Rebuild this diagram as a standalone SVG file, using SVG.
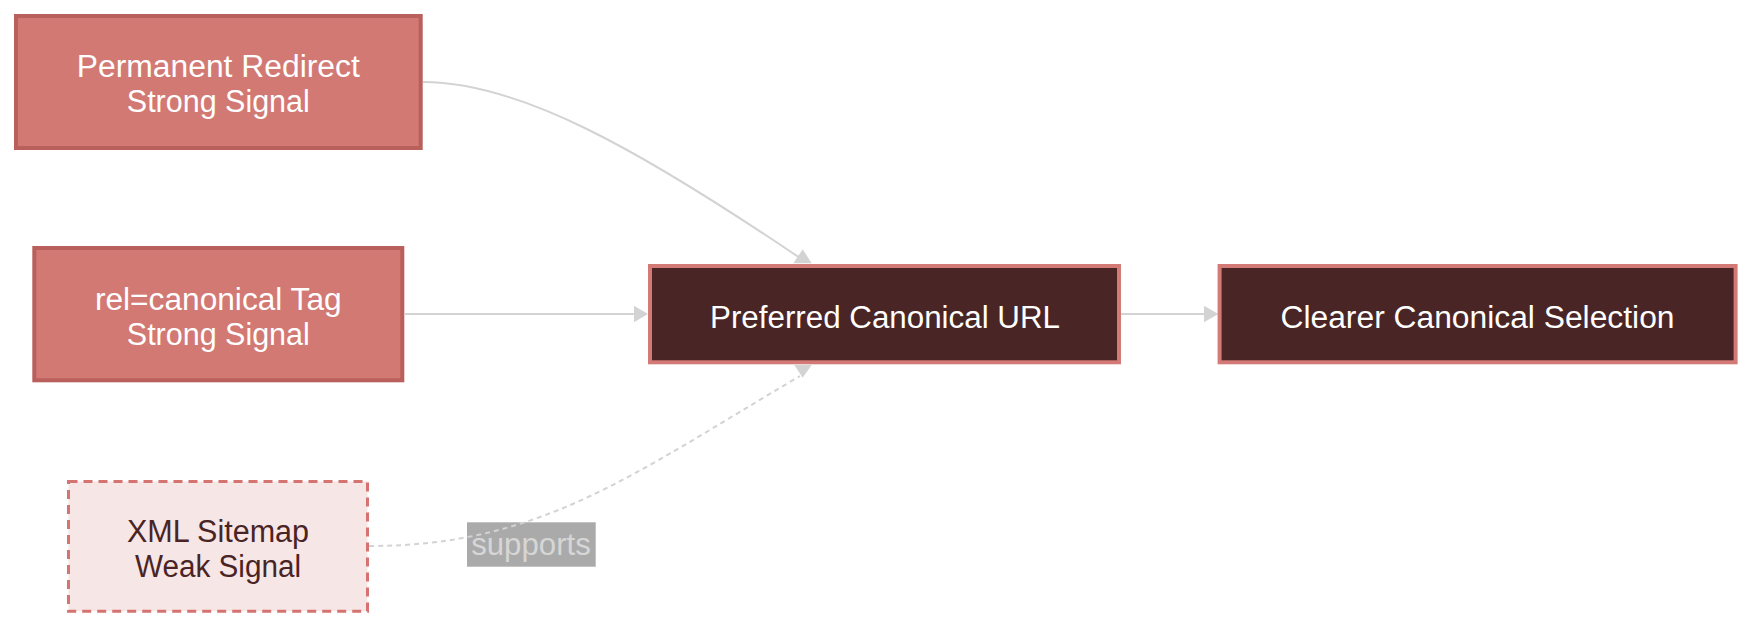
<svg xmlns="http://www.w3.org/2000/svg" width="1752" height="629" viewBox="0 0 1752 629">
<style>
  text { font-family: "Liberation Sans", Arial, sans-serif; font-size: 31px; text-anchor: middle; }
  .strong rect { fill: #d27974; stroke: #b95f5c; stroke-width: 4; }
  .strong text { fill: #ffffff; }
  .dark rect { fill: #4a2525; stroke: #d47a76; stroke-width: 4; }
  .dark text { fill: #ffffff; }
  .weak rect { fill: #f7e6e6; stroke: #d4736f; stroke-width: 3; stroke-dasharray: 9 6; }
  .weak text { fill: #4a2424; }
  .edge { fill: none; stroke: #d3d3d3; stroke-width: 2; }
  .dashed { stroke-dasharray: 5 4; }
  .head { fill: #d3d3d3; }
  .lbl rect { fill: #aaaaaa; }
  .lbl text { fill: #d6d6d6; }
</style>
<rect width="1752" height="629" fill="#ffffff"/>
<g id="connectors">
  <g class="lbl" id="label-supports">
    <rect x="467" y="522.3" width="128.7" height="44.4"/>
    <text x="531" y="555" textLength="119.6" lengthAdjust="spacingAndGlyphs">supports</text>
  </g>
  <path class="edge" d="M423,82 C520,82 640,150 800,258"/>
  <polygon class="head" points="802.7,249.3 793.3,263.3 811.7,263.3"/>
  <path class="edge" d="M405,314 L636,314"/>
  <polygon class="head" points="634,305.7 648,314 634,322.3"/>
  <path class="edge" d="M1121,314 L1206,314"/>
  <polygon class="head" points="1204,305.7 1218.3,314 1204,322.3"/>
  <path class="edge dashed" d="M369,546 C540,546 630,476 800,376"/>
  <polygon class="head" points="794.3,365 811.7,365 802.7,377.7"/>
</g>
<g id="redirect" class="strong">
  <rect x="16" y="16" width="404.7" height="132"/>
  <text x="218.3" y="77" textLength="283" lengthAdjust="spacingAndGlyphs">Permanent Redirect</text>
  <text x="218.3" y="112" textLength="183" lengthAdjust="spacingAndGlyphs">Strong Signal</text>
</g>
<g id="canonicalTag" class="strong">
  <rect x="34.3" y="248" width="368" height="132.3"/>
  <text x="218.3" y="310" textLength="246.7" lengthAdjust="spacingAndGlyphs">rel=canonical Tag</text>
  <text x="218.3" y="345" textLength="183" lengthAdjust="spacingAndGlyphs">Strong Signal</text>
</g>
<g id="sitemap" class="weak">
  <rect x="68.5" y="481.5" width="299" height="129.7"/>
  <text x="218" y="541.7" textLength="182" lengthAdjust="spacingAndGlyphs">XML Sitemap</text>
  <text x="218" y="577.3" textLength="166" lengthAdjust="spacingAndGlyphs">Weak Signal</text>
</g>
<g id="preferred" class="dark">
  <rect x="650" y="266" width="469" height="96.3"/>
  <text x="885" y="328.3" textLength="350" lengthAdjust="spacingAndGlyphs">Preferred Canonical URL</text>
</g>
<g id="clearer" class="dark">
  <rect x="1219.6" y="266" width="516" height="96.3"/>
  <text x="1477.5" y="328.3" textLength="394" lengthAdjust="spacingAndGlyphs">Clearer Canonical Selection</text>
</g>
</svg>
